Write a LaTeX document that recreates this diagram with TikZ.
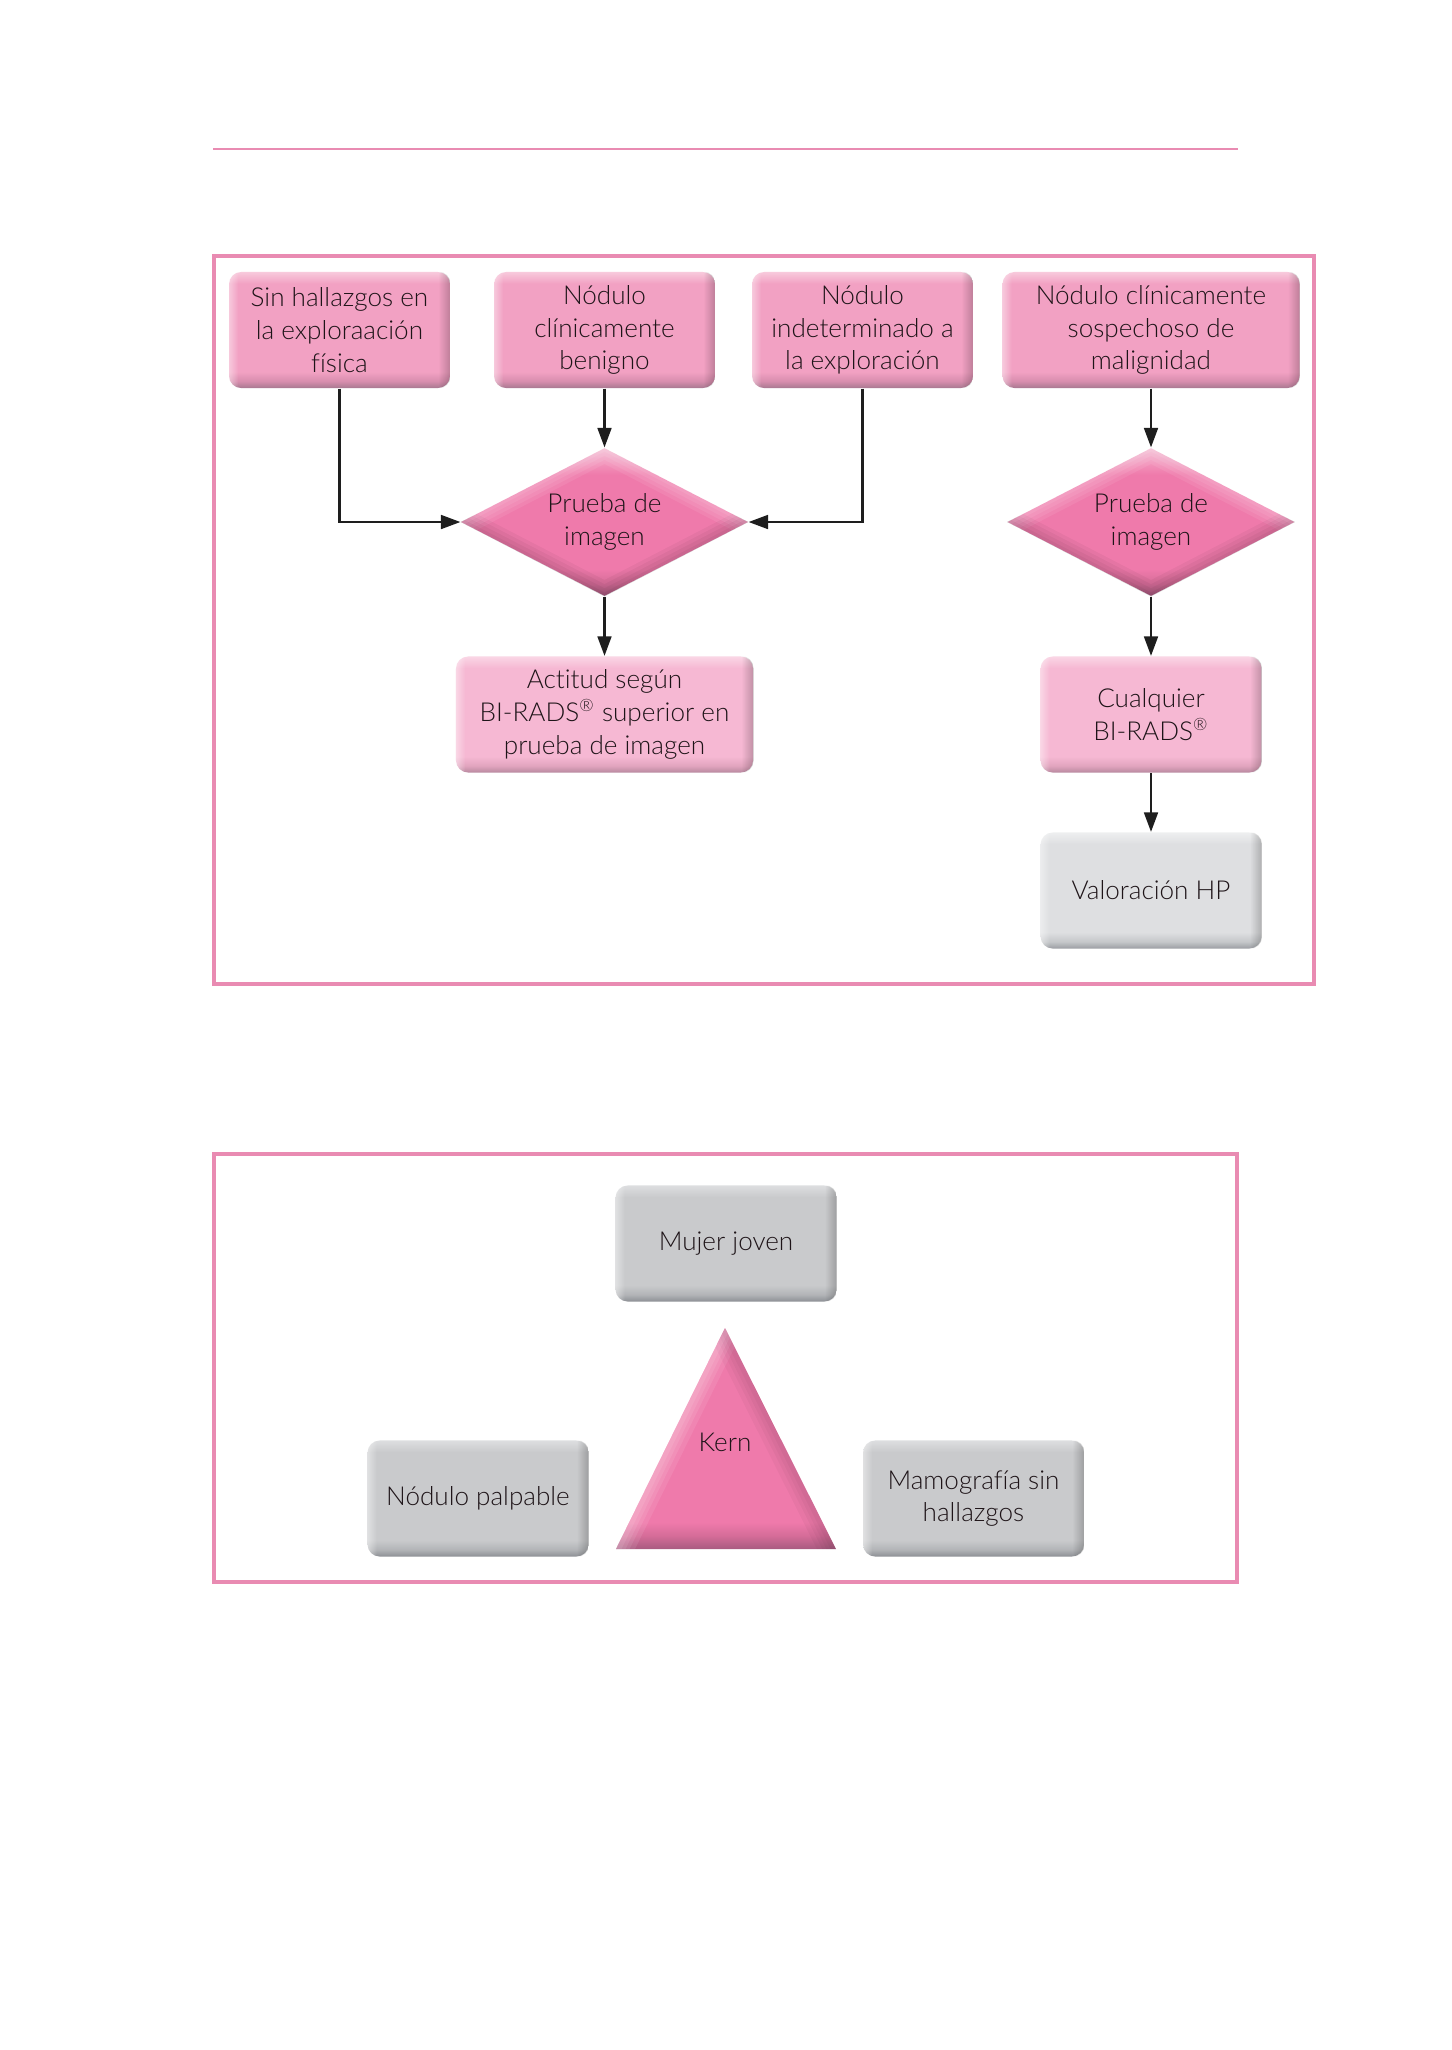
\documentclass[tikz,border=0pt]{standalone}
\usepackage{fontspec}
\setmainfont{Lato Light}[Ligatures=NoCommon]
\usetikzlibrary{arrows.meta,shapes.geometric,fadings}
\definecolor{frameC}{HTML}{E98BB2}
\definecolor{txtc}{HTML}{1E1418}
\definecolor{arrC}{HTML}{1E1E1E}
\definecolor{pA}{HTML}{F2A1C3}
\definecolor{pAd}{HTML}{A87890}
\definecolor{pAm}{HTML}{D88EAE}
\definecolor{pAl}{HTML}{F8CADC}
\definecolor{dm}{HTML}{EF7AAB}
\definecolor{dmd}{HTML}{A85A80}
\definecolor{dmm}{HTML}{D56C98}
\definecolor{dml}{HTML}{F6B5CF}
\definecolor{pL}{HTML}{F6B8D3}
\definecolor{pLd}{HTML}{B8899F}
\definecolor{pLm}{HTML}{E2A5BF}
\definecolor{pLl}{HTML}{FAD6E5}
\definecolor{gL}{HTML}{DEDFE1}
\definecolor{gLd}{HTML}{9A9DA2}
\definecolor{gLm}{HTML}{C5C7CA}
\definecolor{gLl}{HTML}{EEEFF0}
\definecolor{gM}{HTML}{C9CACC}
\definecolor{gMd}{HTML}{8C8F94}
\definecolor{gMm}{HTML}{B2B4B7}
\definecolor{gMl}{HTML}{DDDEE0}
\pgfdeclareverticalshading{shPA}{100bp}{color(0bp)=(pAd); color(25bp)=(pAd); color(28bp)=(pAm); color(32bp)=(pA); color(70bp)=(pA); color(75bp)=(pAl); color(100bp)=(pAl)}
\pgfdeclareverticalshading{shDM}{100bp}{color(0bp)=(dmd); color(25bp)=(dmd); color(29bp)=(dmm); color(34bp)=(dm); color(66bp)=(dm); color(75bp)=(dml); color(100bp)=(dml)}
\pgfdeclareverticalshading{shPL}{100bp}{color(0bp)=(pLd); color(25bp)=(pLd); color(28bp)=(pLm); color(32bp)=(pL); color(70bp)=(pL); color(75bp)=(pLl); color(100bp)=(pLl)}
\pgfdeclareverticalshading{shGL}{100bp}{color(0bp)=(gLd); color(25bp)=(gLd); color(28bp)=(gLm); color(32bp)=(gL); color(70bp)=(gL); color(75bp)=(gLl); color(100bp)=(gLl)}
\pgfdeclareverticalshading{shGM}{100bp}{color(0bp)=(gMd); color(25bp)=(gMd); color(28bp)=(gMm); color(32bp)=(gM); color(70bp)=(gM); color(75bp)=(gMl); color(100bp)=(gMl)}
\pgfdeclareverticalshading{shTR}{100bp}{color(0bp)=(dmd); color(25bp)=(dmd); color(28bp)=(dmm); color(31bp)=(dm); color(100bp)=(dm)}
\tikzset{
  txt/.style={font=\fontsize{10.7}{13.4}\selectfont, text=txtc, align=center, inner sep=0pt},
  box/.style={txt, shade, rounded corners=5pt, minimum width=90.6pt, minimum height=47.6pt},
  wide/.style={minimum width=121.8pt},
  pinkbox/.style={box, shading=shPA},
  lightbox/.style={box, shading=shPL},
  graybox/.style={box, shading=shGL},
  darkgray/.style={box, shading=shGM},
  diam/.style={diamond, shade, shading=shDM, minimum width=117.7pt, minimum height=60.7pt, inner sep=0pt},
  frame/.style={draw=frameC, line width=1.3pt},
  arr/.style={draw=arrC, line width=1.1pt, -{Triangle[length=8pt,width=5.6pt]}},
  hilite/.style={draw=white, line cap=round, line join=round},
  shadowline/.style={draw=black, line cap=round, line join=round},
}
% side bevel of a rounded box node
\newcommand\mybevel[1]{%
  \begin{scope}
    \clip[rounded corners=5pt] (#1.south west) rectangle (#1.north east);
    \fill[black, opacity=0.22, path fading=west] ([xshift=-5pt]#1.south east) rectangle (#1.north east);
    \fill[white, opacity=0.45, path fading=east] (#1.south west) rectangle ([xshift=4pt]#1.north west);
  \end{scope}}
% bevel of a diamond node (soft edges built from stacked strokes)
\newcommand\mydiabevel[1]{%
  \begin{scope}
    \clip (#1.north) -- (#1.east) -- (#1.south) -- (#1.west) -- cycle;
    \foreach \w in {12,9,6,3}{
      \draw[hilite, opacity=0.08, line width=\w pt] (#1.west) -- (#1.north) -- (#1.east);
      \draw[shadowline, opacity=0.04, line width=\w pt] (#1.west) -- (#1.south) -- (#1.east);
    }
  \end{scope}}
\begin{document}
\begin{tikzpicture}[x=0.41pt,y=-0.41pt]
\useasboundingbox[fill=white] (0,0) rectangle (1452,2050);
% top rule
\coordinate (r1) at (213,149);
\coordinate (r2) at (1238,149);
\draw[draw=frameC, line width=0.7pt] (r1) -- (r2);
% frame 1
\coordinate (f1a) at (214,256);
\coordinate (f1b) at (1314,984);
\draw[frame] (f1a) rectangle (f1b);
% top row
\node[pinkbox] (A) at (339.5,330) {Sin hallazgos en\\la exploraación\\física};
\node[pinkbox] (B) at (604.5,330) {Nódulo\\clínicamente\\benigno};
\node[pinkbox] (C) at (862.5,330) {Nódulo\\indeterminado a\\la exploración};
\node[pinkbox, wide] (D) at (1151,330) {Nódulo clínicamente\\sospechoso de\\malignidad};
% diamonds
\node[diam] (d1) at (604.5,522) {};
\node[diam] (d2) at (1151,522) {};
\mydiabevel{d1}\mydiabevel{d2}
\node[txt] (d1t) at (d1.center) {Prueba de\\imagen};
\node[txt] (d2t) at (d2.center) {Prueba de\\imagen};
% second row
\node[lightbox, wide] (E) at (604.5,714.5) {Actitud según\\BI-RADS\textsuperscript{\scriptsize ®} superior en\\prueba de imagen};
\node[lightbox] (F) at (1151,714.5) {Cualquier\\BI-RADS\textsuperscript{\scriptsize ®}};
\node[graybox] (G) at (1151,890.5) {Valoración HP};
% arrows
\draw[arr] (A.south) |- (d1.west);
\draw[arr] (B.south) -- (d1.north);
\draw[arr] (C.south) |- (d1.east);
\draw[arr] (D.south) -- (d2.north);
\draw[arr] (d1.south) -- (E.north);
\draw[arr] (d2.south) -- (F.north);
\draw[arr] (F.south) -- (G.north);
% frame 2
\coordinate (f2a) at (214,1154);
\coordinate (f2b) at (1237,1582);
\draw[frame] (f2a) rectangle (f2b);
\node[darkgray] (M) at (726,1243.5) {Mujer joven};
\node[darkgray] (N) at (478,1498.5) {Nódulo palpable};
\node[darkgray] (R) at (973.5,1498.5) {Mamografía sin\\hallazgos};
\coordinate (t1) at (616,1549);
\coordinate (t2) at (725,1328);
\coordinate (t3) at (836,1549);
\shade[shading=shTR] (t1) -- (t2) -- (t3) -- cycle;
\begin{scope}
  \clip (t1) -- (t2) -- (t3) -- cycle;
  \foreach \w in {14,10,7,4}{
    \draw[hilite, opacity=0.09, line width=\w pt] (t1) -- (t2);
    \draw[shadowline, opacity=0.03, line width=\w pt] (t2) -- (t3);
  }
\end{scope}
\node[txt] (K) at (725,1442) {Kern};
% bevels
\mybevel{A}\mybevel{B}\mybevel{C}\mybevel{D}
\mybevel{E}\mybevel{F}\mybevel{G}
\mybevel{M}\mybevel{N}\mybevel{R}
\end{tikzpicture}
\end{document}
